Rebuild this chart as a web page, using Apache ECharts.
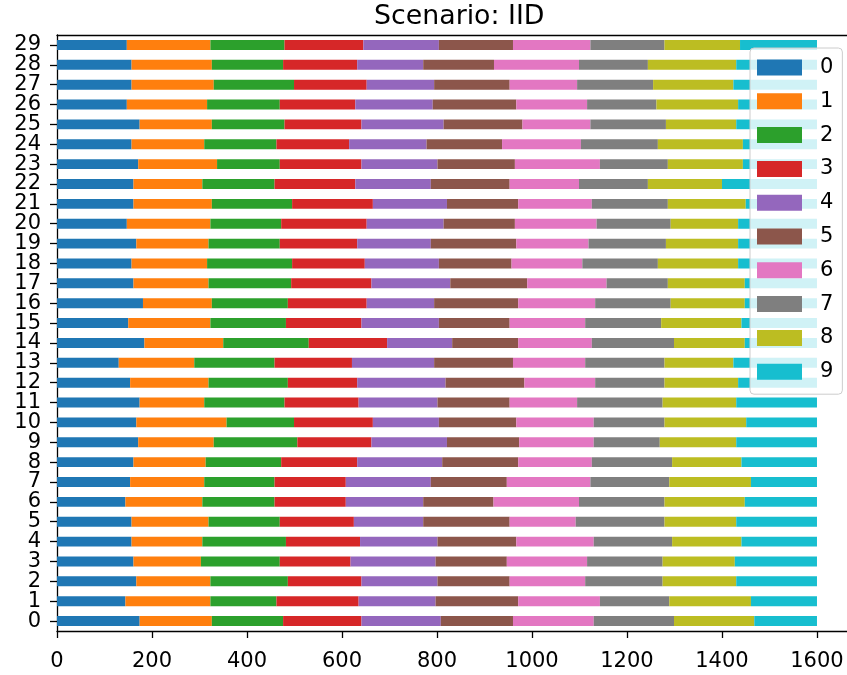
<!DOCTYPE html>
<html>
<head>
<meta charset="utf-8">
<script src="https://cdn.jsdelivr.net/npm/echarts@6/dist/echarts.min.js"></script>
<style>
html,body{margin:0;padding:0;background:#fff;}
#chart{width:847px;height:675px;}
</style>
</head>
<body>
<div id="chart"></div>
<script>
const categories = ['0','1','2','3','4','5','6','7','8','9','10','11','12','13','14','15','16','17','18','19','20','21','22','23','24','25','26','27','28','29'];
const seriesNames = ['0','1','2','3','4','5','6','7','8','9'];
const xTicks = [0,200,400,600,800,1000,1200,1400,1600];
const s0 = [174,144,167,161,157,157,144,154,161,171,167,174,154,130,184,150,181,161,157,167,147,161,161,171,157,174,147,157,157,147];
const s1 = [152,179,156,142,149,162,162,156,152,159,190,136,165,159,166,173,145,158,159,152,176,165,145,166,153,152,169,173,169,176];
const s2 = [150,139,163,166,176,150,152,148,159,176,142,169,167,169,180,159,160,174,179,150,149,169,152,132,152,153,153,169,150,156];
const s3 = [165,173,155,149,156,156,150,150,160,156,166,156,146,163,165,159,166,169,153,163,180,170,170,172,153,162,159,153,156,166];
const s4 = [167,162,160,179,163,146,163,179,179,159,139,166,186,173,137,163,142,166,156,155,162,156,159,160,163,173,163,142,139,159];
const s5 = [152,174,152,150,166,182,148,160,160,152,163,152,166,166,139,149,177,162,153,180,150,150,166,163,159,166,176,159,149,156];
const s6 = [170,172,159,169,163,139,180,176,155,157,163,142,149,152,155,159,162,167,149,152,172,155,146,179,166,143,149,142,179,163];
const s7 = [169,146,163,159,165,187,180,166,169,139,149,180,146,167,173,160,159,129,159,163,156,160,145,143,162,159,146,160,145,156];
const s8 = [169,172,155,152,146,151,169,172,146,161,172,155,155,145,149,169,156,162,169,152,142,164,156,158,179,148,172,169,186,159];
const s9 = [132,139,170,173,159,170,152,139,159,170,149,170,166,176,152,159,152,152,166,166,166,150,200,156,156,170,166,176,170,162];
const seriesValues = [s0,s1,s2,s3,s4,s5,s6,s7,s8,s9];
const colors = ['#1f77b4','#ff7f0e','#2ca02c','#d62728','#9467bd','#8c564b','#e377c2','#7f7f7f','#bcbd22','#17becf'];

const chart = echarts.init(document.getElementById('chart'), null, {renderer:'canvas'});
const FONT = 'DejaVu Sans';
chart.setOption({
  animation: false,
  color: colors,
  textStyle: {fontFamily: FONT},
  title: {
    text: 'Scenario: IID',
    left: 369, top: -1,
    textStyle: {fontFamily: FONT, fontSize: 26.8, fontWeight: 'normal', color: '#000'}
  },
  legend: {
    orient: 'vertical',
    left: 750, top: 48,
    padding: [9, 9, 12, 7],
    itemWidth: 45, itemHeight: 16, itemGap: 12.8,
    icon: 'rect',
    backgroundColor: 'rgba(255,255,255,0.8)',
    borderColor: '#cccccc', borderWidth: 1, borderRadius: 4,
    textStyle: {fontFamily: FONT, fontSize: 21, color: '#000', padding: [0,0,0,13]},
    data: seriesNames
  },
  grid: {
    left: 57, top: 35, right: 0, height: 596,
    show: false,
    containLabel: false
  },
  xAxis: [{
    type: 'value', min: 0, max: 1663.2, interval: 200,
    position: 'bottom',
    splitLine: {show: false},
    axisLine: {show: true, lineStyle: {color: '#000', width: 1.3}},
    axisTick: {show: true, length: 7, customValues: xTicks, lineStyle: {color: '#000', width: 1.3}},
    axisLabel: {fontFamily: FONT, fontSize: 21, color: '#000', margin: 20, customValues: xTicks,
      formatter: v => String(v)}
  }, {
    type: 'value', min: 0, max: 1663.2, position: 'top',
    splitLine: {show: false},
    axisLine: {show: true, onZero: false, lineStyle: {color: '#000', width: 1.3}},
    axisTick: {show: false}, axisLabel: {show: false}
  }],
  yAxis: {
    type: 'category', data: categories,
    axisLine: {show: true, lineStyle: {color: '#000', width: 1.3}},
    axisTick: {show: true, alignWithLabel: true, length: 7, interval: 0, lineStyle: {color: '#000', width: 1.3}},
    axisLabel: {fontFamily: FONT, fontSize: 21, color: '#000', margin: 16, interval: 0}
  },
  series: seriesNames.map((n, i) => ({
    name: n, type: 'bar', stack: 'total', barWidth: '50%', xAxisIndex: 0,
    itemStyle: {color: colors[i]},
    data: seriesValues[i]
  }))
});
</script>
</body>
</html>
